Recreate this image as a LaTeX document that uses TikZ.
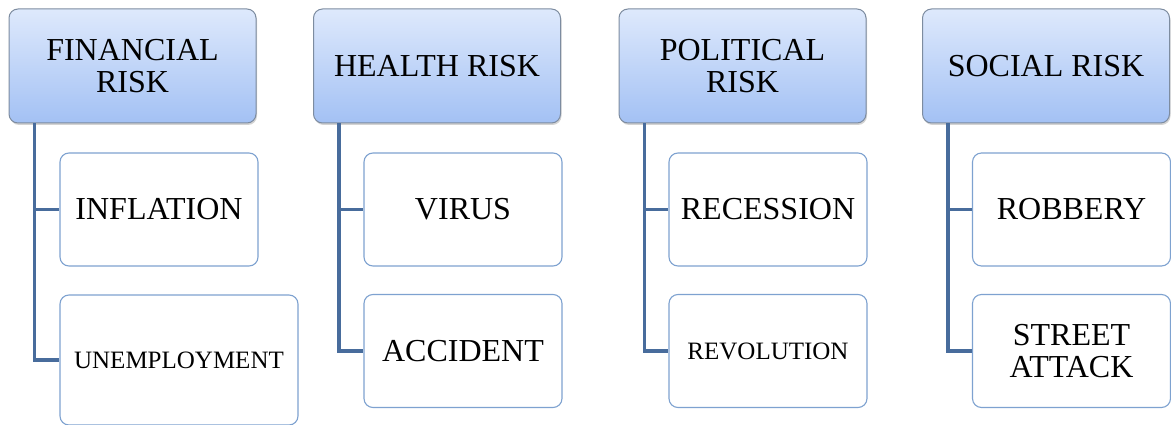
\documentclass[tikz,border=0pt]{standalone}
\usepackage{fontspec}
\setmainfont{Liberation Serif}
\usetikzlibrary{shadows}
\definecolor{headtop}{RGB}{222,233,252}
\definecolor{headbot}{RGB}{163,193,244}
\definecolor{headline}{RGB}{125,140,160}
\definecolor{itemline}{RGB}{126,162,208}
\definecolor{branchcol}{RGB}{72,108,156}
\tikzstyle{head}=[draw=headline,line width=1pt,rounded corners=9pt,top color=headtop,bottom color=headbot,minimum width=247pt,minimum height=114pt,align=center,font=\fontsize{32}{32}\selectfont,inner sep=2pt,drop shadow={shadow xshift=1pt,shadow yshift=-2pt,opacity=0.35}]
\tikzstyle{item}=[draw=itemline,line width=1.1pt,fill=white,rounded corners=9pt,minimum width=198pt,minimum height=113pt,align=center,font=\fontsize{32}{32}\selectfont,inner sep=2pt]
\tikzstyle{small item}=[item,font=\fontsize{25}{28}\selectfont]
\tikzstyle{branch}=[draw=branchcol,line width=3.5pt]

\begin{document}
\begin{tikzpicture}[x=1pt,y=-1pt]
						\useasboundingbox (0,0) rectangle (1171,425);
						% First we draw the risk groups
						\foreach \pos/\name/\text in {{(132.5,66)/fin/FINANCIAL\\RISK}, {(437,66)/hea/HEALTH RISK}, {(742.5,66)/pol/POLITICAL\\RISK}, {(1046,66)/soc/SOCIAL RISK}}
						\node[head] (\name) at \pos {\text};

						% Then the single risks
						\foreach \pos/\name/\text in {{(159,209.5)/infl/INFLATION}, {(463,209.5)/vir/VIRUS}, {(463,351)/acc/ACCIDENT}, {(768,209.5)/rec/RECESSION}, {(1071.5,209.5)/rob/ROBBERY}, {(1071.5,351)/str/STREET\\ATTACK}}
						\node[item] (\name) at \pos {\text};
						\node[small item, minimum width=238pt, minimum height=130pt] (unemp) at (179,360) {UNEMPLOYMENT};
						\node[small item] (rev) at (768,351) {REVOLUTION};

						% Connect groups with their risks
						\foreach \source/ \dest in {fin/infl, fin/unemp, hea/vir, hea/acc, pol/rec, pol/rev, soc/rob, soc/str}
						\path[branch] ([xshift=26pt]\source.south west) |- (\dest.west);
					\end{tikzpicture}
\end{document}
